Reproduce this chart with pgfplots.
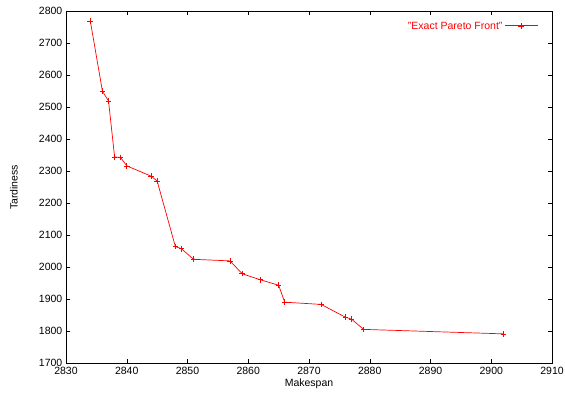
\documentclass[border=0pt]{standalone}
\usepackage{fontspec}
\setmainfont{Liberation Sans}
\usepackage{pgfplots}
\pgfplotsset{compat=1.18}
\begin{document}
\fontsize{10.5}{12}\selectfont
\begin{tikzpicture}
\begin{axis}[
  scale only axis,
  width=486pt, height=352pt,
  xmin=2830, xmax=2910, ymin=1700, ymax=2800,
  xtick={2830,2840,...,2910}, ytick={1700,1800,...,2800},
  tick align=inside, major tick length=4pt,
  tick style={black, line width=0.5pt},
  axis line style={line width=0.6pt},
  /pgf/number format/assume math mode=true,
  /pgf/number format/1000 sep={},
  xlabel={Makespan}, ylabel={Tardiness},
  xlabel style={yshift=3pt}, ylabel style={yshift=14pt},
  legend style={draw=none, fill=none, at={(0.978,0.982)}, anchor=north east, font=\fontsize{10.5}{12}\selectfont\color{red}},
  legend plot pos=right, legend cell align=right,
  legend image code/.code={\draw[red, line width=0.9pt] (0cm,0.3pt) -- (1.15cm,0.3pt); \draw[red, line width=0.7pt] (0.575cm,-2.8pt) -- (0.575cm,3.4pt) (0.475cm,0.3pt) -- (0.675cm,0.3pt);},
]
\addplot[red, line width=0.7pt, mark=+, mark size=2.8pt, mark options={line width=0.6pt}] coordinates {
(2834,2770) (2836,2550) (2837,2520) (2838,2345) (2839,2343) (2840,2317)
(2844,2285) (2845,2270) (2848,2065) (2849,2058) (2851,2025) (2857,2020)
(2859,1980) (2862,1961) (2865,1944) (2866,1891) (2872,1884) (2876,1844)
(2877,1838) (2879,1806) (2902,1792)
};
\addlegendentry{"Exact Pareto Front"}
\end{axis}
\pgfresetboundingbox
\path (current axis.south west) ++(-66pt,-35.7pt) coordinate (a);
\path (current axis.north east) ++(13pt,11.3pt) coordinate (b);
\path[use as bounding box] (a) rectangle (b);
\end{tikzpicture}
\end{document}
